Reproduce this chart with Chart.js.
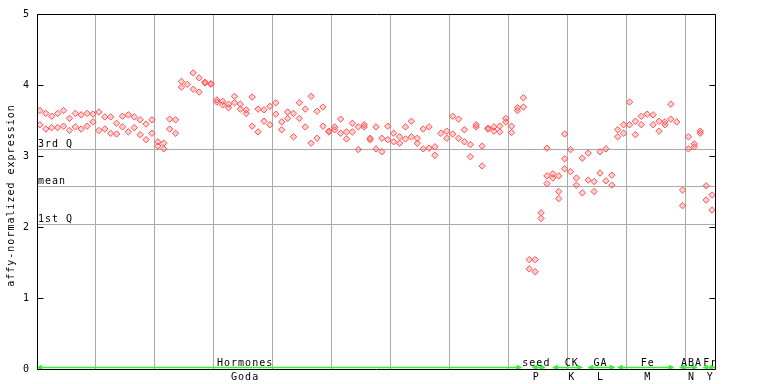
<!DOCTYPE html>
<html>
<head>
<meta charset="utf-8">
<script src="https://cdn.jsdelivr.net/npm/chart.js@4/dist/chart.umd.min.js"></script>
<style>
  body { margin:0; background:#fff; }
  #c { display:block; }
</style>
</head>
<body>
<canvas id="c" width="768" height="384"></canvas>
<script>
// sample values, two replicates per sample (null = no point)
let rep1 = [
  3.64,3.60,3.56,3.60,3.64,3.53,3.60,3.58,3.60,3.59,
  3.62,3.55,3.55,3.46,3.56,3.58,3.55,3.51,3.45,3.51,
  3.20,3.18,3.52,3.51,4.05,4.01,4.17,4.10,4.04,4.02,
  3.79,3.77,3.73,3.84,3.73,3.65,3.83,3.66,3.65,3.70,
  3.75,3.48,3.62,3.60,3.75,3.66,3.84,3.63,3.69,3.35,
  3.41,3.52,3.34,3.46,3.41,3.44,3.25,3.41,3.25,3.42,
  3.32,3.27,3.41,3.49,3.25,3.38,3.41,3.13,3.32,3.35,
  3.56,3.52,3.37,3.16,3.44,3.14,3.39,3.41,3.42,3.53,
  3.42,3.68,3.82,1.54,1.54,2.20,3.11,2.75,2.72,3.31,
  3.09,2.69,2.97,3.04,2.64,3.06,3.10,2.73,3.37,3.44,
  3.76,3.49,3.56,3.59,3.58,3.49,3.48,3.73,3.48,2.52,
  3.27,3.17,3.35,2.58,2.45
];
let rep2 = [
  3.44,3.38,3.40,3.40,3.42,3.36,3.41,3.38,3.42,3.48,
  3.36,3.38,3.32,3.31,3.41,3.34,3.40,3.30,3.23,3.32,
  3.14,3.10,3.38,3.32,3.97,null,3.94,3.90,4.03,4.01,
  3.76,3.72,3.68,3.75,3.66,3.60,3.42,3.34,3.49,3.44,
  3.59,3.37,3.53,3.27,3.53,3.41,3.18,3.25,3.42,3.34,
  3.37,3.32,3.24,3.34,3.09,3.41,3.23,3.10,3.06,3.23,
  3.20,3.18,3.24,3.27,3.18,3.10,3.11,3.01,null,3.25,
  3.31,3.25,3.20,2.99,3.41,2.86,3.38,3.35,3.34,3.48,
  3.33,3.64,3.69,1.41,1.37,2.12,2.72,2.69,2.50,2.96,
  2.78,2.59,2.48,2.66,2.50,2.76,2.65,2.59,3.27,3.32,
  3.44,3.30,3.44,null,3.44,3.35,3.44,3.52,null,2.30,
  3.10,3.13,3.32,2.38,2.24
];
// a few samples have a third replicate
let extraIdx = [86, 88, 89];
let extraVal = [2.61, 2.40, 2.82];

let yTicks = [0, 1, 2, 3, 4, 5];
let quartLabels = ["3rd Q", "mean", "1st Q"];
let quartValues = [3.10, 2.58, 2.04];

// sample groups along the bottom
let groupTop    = ["Hormones", "seed", "CK", "GA", "Fe", "ABA", "Fr"];
let groupBottom = ["Goda", "P", "K", "L", "M", "N", "Y"];
let groupStart  = [0, 84, 87.5, 93.5, 98.5, 109, 113];
let groupEnd    = [82.2, 86.2, 92.5, 98, 108, 112, 115];
let groupLabelAt = [35.3, 84.7, 90.7, 95.6, 103.6, 111, 114.2];

const FONT = "10px 'DejaVu Sans Mono', monospace";

function toPoints(arr){
  let pts = [];
  arr.forEach((v,i)=>{ if(v!==null) pts.push({x:i+0.5, y:v}); });
  return pts;
}

let pointStyle = {
  pointStyle:'rectRot', pointRadius:3.2, pointBorderWidth:1,
  borderColor:'#ff5252', backgroundColor:'rgba(255,120,120,0.35)',
  showLine:false
};

// frame, quartile lines, green group bars and labels
const decor = {
  id:'decor',
  beforeDatasetsDraw(chart){
    const {ctx, chartArea:a, scales:{y}} = chart;
    ctx.save();
    ctx.strokeStyle = '#aaaaaa';
    ctx.lineWidth = 1;
    ctx.font = FONT;
    ctx.fillStyle = '#000';
    ctx.textAlign = 'left';
    ctx.textBaseline = 'alphabetic';
    try { ctx.letterSpacing = '1px'; } catch(e){}
    quartValues.forEach((q,i)=>{
      let py = Math.round(y.getPixelForValue(q)) + 0.5;
      ctx.beginPath(); ctx.moveTo(a.left, py); ctx.lineTo(a.right, py); ctx.stroke();
      ctx.fillText(quartLabels[i], a.left + 1, py - 2.5);
    });
    ctx.restore();
  },
  afterDraw(chart){
    const {ctx, chartArea:a, scales:{x,y}} = chart;
    ctx.save();
    // green group bars
    ctx.strokeStyle = '#33ee33';
    ctx.lineWidth = 1.5;
    let gy = a.bottom - 1.5;
    groupStart.forEach((s,i)=>{
      let x0 = x.getPixelForValue(s), x1 = x.getPixelForValue(groupEnd[i]);
      ctx.beginPath();
      ctx.moveTo(x0, gy); ctx.lineTo(x1, gy);
      ctx.moveTo(x0+5, gy-2); ctx.lineTo(x0+1, gy); ctx.lineTo(x0+5, gy+1.5);
      ctx.moveTo(x1-5, gy-2); ctx.lineTo(x1-1, gy); ctx.lineTo(x1-5, gy+1.5);
      ctx.stroke();
    });
    // frame
    ctx.strokeStyle = '#000';
    ctx.lineWidth = 1;
    let L = a.left + 0.5, R = a.right + 0.5, T = a.top + 0.5, B = a.bottom + 0.5;
    ctx.beginPath();
    ctx.moveTo(L, T); ctx.lineTo(R, T); ctx.lineTo(R, B); ctx.lineTo(L, B); ctx.closePath();
    ctx.stroke();
    yTicks.forEach(v=>{
      let py = Math.round(y.getPixelForValue(v)) + 0.5;
      ctx.beginPath();
      ctx.moveTo(L, py); ctx.lineTo(L + 6, py);
      ctx.moveTo(R, py); ctx.lineTo(R - 6, py);
      ctx.stroke();
    });
    // group labels
    ctx.font = FONT;
    ctx.fillStyle = '#000';
    ctx.textAlign = 'center';
    try { ctx.letterSpacing = '1px'; } catch(e){}
    groupLabelAt.forEach((u,i)=>{
      let px = x.getPixelForValue(u);
      ctx.fillText(groupTop[i], px, a.bottom - 3);
      ctx.fillText(groupBottom[i], px, a.bottom + 11);
    });
    // y axis title
    ctx.translate(11, (a.top + a.bottom)/2 + 4);
    ctx.rotate(-Math.PI/2);
    ctx.textBaseline = 'middle';
    ctx.fillText("affy-normalized expression", 0, 0);
    ctx.restore();
  }
};

new Chart(document.getElementById('c'), {
  type:'scatter',
  data:{
    datasets:[
      Object.assign({data:toPoints(rep1)}, pointStyle),
      Object.assign({data:toPoints(rep2)}, pointStyle),
      Object.assign({data:extraIdx.map((k,i)=>({x:k+0.5, y:extraVal[i]}))}, pointStyle)
    ]
  },
  options:{
    responsive:false,
    animation:false,
    layout:{padding:{top:13, right:53, left:0, bottom:0}},
    plugins:{legend:{display:false}, tooltip:{enabled:false}},
    scales:{
      x:{
        type:'linear', min:0, max:115,
        afterBuildTicks: s => { s.ticks = [10,20,30,40,50,60,70,80,90,100,110].map(v=>({value:v})); },
        afterFit: s => { s.height = 15; },
        ticks:{display:false},
        grid:{color:'#aaaaaa', lineWidth:1, drawTicks:false},
        border:{display:false}
      },
      y:{
        type:'linear', min:0, max:5,
        afterBuildTicks: s => { s.ticks = yTicks.map(v=>({value:v})); },
        afterFit: s => { s.width = 37; },
        ticks:{font:{family:"'DejaVu Sans Mono', monospace", size:10}, color:'#000', padding:8},
        grid:{display:false, drawTicks:false},
        border:{display:false}
      }
    }
  },
  plugins:[decor]
});
</script>
</body>
</html>
